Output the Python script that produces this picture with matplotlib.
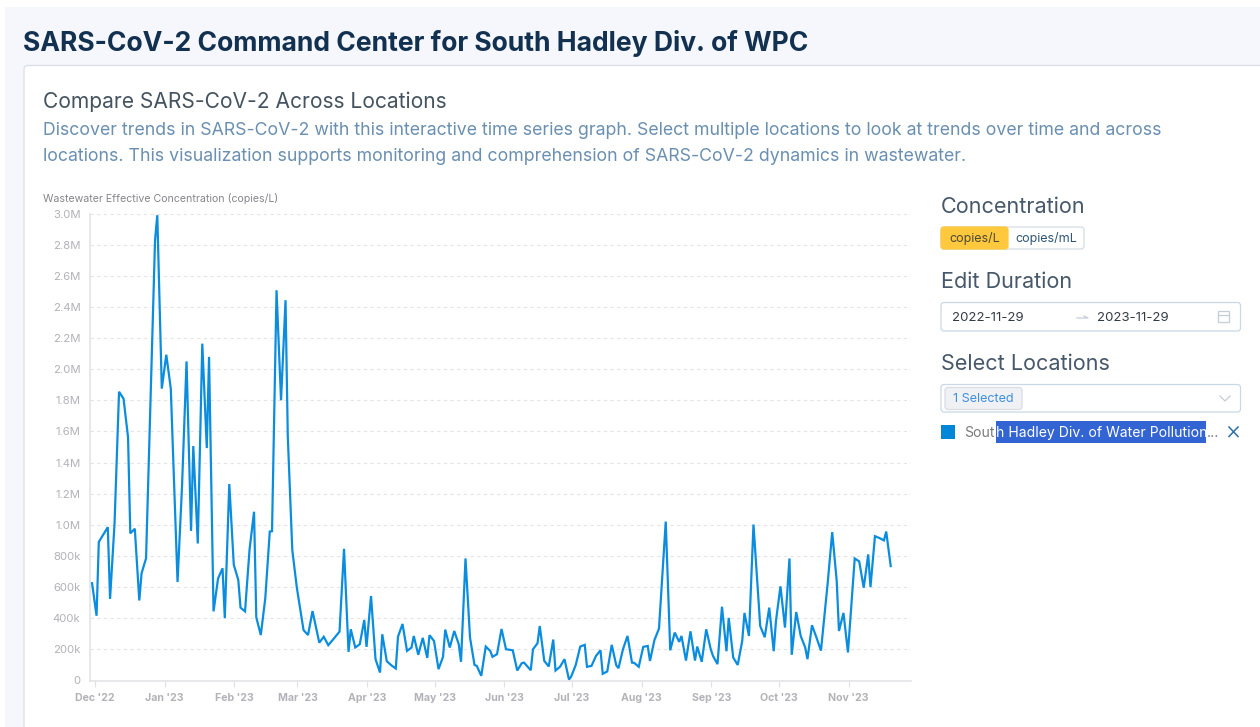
import matplotlib
matplotlib.use("Agg")
import matplotlib.pyplot as plt
from matplotlib.patches import Rectangle, FancyBboxPatch
from matplotlib.lines import Line2D

W, H = 1260, 727

# days since 2022-12-01 for each sample
days = [
    -1, 1, 2, 6, 7, 9, 11, 13, 15, 16, 18, 20, 21, 23, 25, 26, 27, 28, 30, 32,
    34, 37, 39, 41, 43, 44, 46, 48, 50, 51, 53, 55, 57, 58, 60, 62, 64, 65, 67, 69,
    71, 72, 74, 76, 78, 79, 81, 83, 85, 86, 88, 90, 93, 95, 97, 100, 102, 104,
    106, 109, 111, 113, 114, 116, 118, 120, 121, 123, 125, 127, 128, 130, 132, 134, 135, 137,
    139, 141, 142, 144, 146, 148, 149, 151, 153, 155, 156, 158, 160, 162, 163, 165, 167, 169,
    170, 172, 174, 176, 177, 179, 181, 183, 186, 188, 190, 191, 194, 195, 197, 198, 200, 202,
    204, 205, 207, 209, 211, 212, 214, 216, 218, 219, 221, 223, 225, 226, 228, 230, 232, 233,
    235, 237, 239, 240, 242, 244, 246, 247, 249, 251, 254, 256, 258, 260, 261, 263, 265, 267,
    268, 270, 272, 274, 275, 277, 279, 281, 282, 284, 286, 288, 289, 291, 293, 296, 298, 300,
    302, 303, 305, 307, 309, 310, 312, 314, 316, 317, 319, 321, 323, 326, 328, 330, 331, 333,
    335, 338, 340, 342, 344, 345, 347, 349, 351, 352, 354,
]
# copies/L, in thousands
values = [
    625, 416, 890, 985, 524, 1010, 1855, 1810, 1562, 945, 975, 514, 688, 785, 1800, 2300, 2830, 2989, 1875, 2093,
    1875, 633, 1250, 2050, 961, 1506, 880, 2164, 1493, 2079, 444, 655, 721, 401, 1262, 743, 646, 468, 444, 840,
    1084, 406, 292, 528, 957, 959, 2507, 1800, 2443, 1570, 839, 599, 324, 292, 446, 243, 281, 227,
    261, 314, 846, 184, 329, 212, 233, 389, 216, 543, 137, 51, 297, 124, 98, 77, 282, 363,
    190, 212, 286, 165, 274, 145, 291, 254, 73, 152, 327, 212, 318, 233, 120, 784, 276, 100,
    94, 30, 218, 190, 152, 169, 331, 201, 194, 64, 111, 115, 66, 201, 239, 350, 126, 90,
    263, 64, 88, 137, 6, 26, 100, 218, 229, 88, 94, 158, 194, 43, 58, 229, 98, 79,
    201, 286, 115, 113, 88, 216, 222, 126, 261, 333, 1021, 194, 308, 248, 286, 128, 316, 128,
    218, 120, 329, 201, 158, 105, 474, 188, 402, 147, 100, 254, 434, 286, 1002, 350, 278, 468,
    188, 383, 605, 340, 784, 165, 440, 286, 212, 137, 355, 276, 192, 628, 953, 639, 318, 434,
    180, 784, 765, 596, 810, 600, 927, 915, 900, 957, 735,
]

month_days = [0, 31, 62, 90, 121, 151, 182, 212, 243, 274, 304, 335]
month_labels = ["Dec '22", "Jan '23", "Feb '23", "Mar '23", "Apr '23", "May '23",
                "Jun '23", "Jul '23", "Aug '23", "Sep '23", "Oct '23", "Nov '23"]
y_ticks = [0, 200, 400, 600, 800, 1000, 1200, 1400, 1600, 1800, 2000, 2200, 2400, 2600, 2800, 3000]
y_labels = ["0", "200k", "400k", "600k", "800k", "1.0M", "1.2M", "1.4M", "1.6M", "1.8M",
            "2.0M", "2.2M", "2.4M", "2.6M", "2.8M", "3.0M"]

plt.rcParams["font.family"] = ["Inter", "Noto Sans", "DejaVu Sans"]

fig = plt.figure(figsize=(W / 100, H / 100), dpi=100, facecolor="white")

# page layer in pixel coordinates, y going down
bg = fig.add_axes([0, 0, 1, 1])
bg.set_xlim(0, W)
bg.set_ylim(H, 0)
bg.axis("off")


def text(x, y, s, px, color, weight="normal", ha="left"):
    # px is the font size in screen pixels
    bg.text(x, y + px * 0.1, s, fontsize=px * 0.72, color=color, fontweight=weight, ha=ha, va="center", zorder=5)


def box(x0, y0, x1, y1, face, edge="none", r=3, z=2):
    bg.add_patch(FancyBboxPatch((x0, y0), x1 - x0, y1 - y0, boxstyle=f"round,pad=0,rounding_size={r}",
                                fc=face, ec=edge, lw=0.9, zorder=z))


bg.add_patch(Rectangle((5, 7), W, H, fc="#f5f7fc", ec="none", zorder=0))
box(24, 65.5, W + 20, H + 20, "white", "#d9dfe8", r=4, z=1)

text(23, 41, "SARS-CoV-2 Command Center for South Hadley Div. of WPC", 26.5, "#12304f", "bold")
text(43, 100, "Compare SARS-CoV-2 Across Locations", 21, "#44535f")
text(43, 129, "Discover trends in SARS-CoV-2 with this interactive time series graph. Select multiple locations to look at trends over time and across",
     17.7, "#6a8fb0")
text(43, 155, "locations. This visualization supports monitoring and comprehension of SARS-CoV-2 dynamics in wastewater.",
     17.7, "#6a8fb0")
text(43, 197, "Wastewater Effective Concentration (copies/L)", 10.6, "#85858c")

# right hand controls
text(941, 205, "Concentration", 21.6, "#46586a")
box(941, 227, 1084, 249, "white", "#d5dce4")
box(941, 227, 1008, 249, "#ffc83d", "#ffc83d")
text(974.5, 237.5, "copies/L", 12.5, "#4a4a3a", ha="center")
text(1046, 237.5, "copies/mL", 12.5, "#2f5573", ha="center")

text(941, 280, "Edit Duration", 21.6, "#46586a")
box(941, 302.5, 1240.5, 331, "white", "#c9d8e6")
text(952, 316.5, "2022-11-29", 13.2, "#333b44")
text(1097, 316.5, "2023-11-29", 13.2, "#333b44")
bg.add_line(Line2D([1077, 1088, 1084], [318, 318, 316], color="#c4ced8", lw=0.9, zorder=4))
bg.add_patch(Rectangle((1218, 311), 11, 11, fc="none", ec="#c4ced8", lw=0.9, zorder=4))
bg.add_line(Line2D([1218, 1229], [314.5, 314.5], color="#c4ced8", lw=0.9, zorder=4))

text(941, 362, "Select Locations", 21.6, "#46586a")
box(941, 384.5, 1240.5, 412, "white", "#c9d8e6")
box(945, 387.5, 1022, 409.5, "#eff1f4", "#d9dde3", z=3)
text(953, 398, "1 Selected", 12.5, "#3f8fdc")
bg.add_line(Line2D([1220, 1225, 1230], [396, 401, 396], color="#c4ced8", lw=0.9, zorder=4))

bg.add_patch(Rectangle((941, 425), 14, 13.5, fc="#0085d9", ec="none"))
bg.add_patch(Rectangle((995.5, 421), 210, 22, fc="#3364d4", ec="none"))
text(964, 431.5, "Sout", 14, "#7c7c80")
text(996, 431.5, "h Hadley Div. of Water Pollution", 14, "white")
text(1207, 431.5, "...", 14, "#7c7c80")
bg.add_line(Line2D([1229, 1238], [427, 436.5], color="#2a6fa8", lw=1.1, zorder=4))
bg.add_line(Line2D([1229, 1238], [436.5, 427], color="#2a6fa8", lw=1.1, zorder=4))

# chart, the plot area sits on the pixels of the reference
left, right, top, bottom = 90.3, 911, 213.5, 680.5
ax = fig.add_axes([left / W, 1 - bottom / H, (right - left) / W, (bottom - top) / H])
ax.patch.set_alpha(0)
ax.set_xlim(-1.78, 363.02)
ax.set_ylim(0, 3000)

ax.plot(days, values, color="#0b8ddf", lw=1.6, solid_joinstyle="miter", clip_on=False, zorder=3)

# month ticks fall a little after the samples of that day
ax.set_xticks([d + 0.3 for d in month_days])
ax.set_xticklabels(month_labels)
ax.set_yticks(y_ticks)
ax.set_yticklabels(y_labels)
ax.grid(True, axis="y", color="#e4e4e8", linestyle=(0, (3, 3)), linewidth=0.8)
ax.tick_params(axis="x", length=4, width=0.9, color="#e2e2e6", labelcolor="#b2b2b8", labelsize=7.6, pad=5)
ax.tick_params(axis="y", length=0, labelcolor="#b2b2b8", labelsize=8.2, pad=7)
for lab in ax.get_xticklabels():
    lab.set_fontweight("bold")
for side in ["top", "right"]:
    ax.spines[side].set_visible(False)
for side in ["left", "bottom"]:
    ax.spines[side].set_color("#e2e2e6")
    ax.spines[side].set_linewidth(1.1)

fig.savefig("out.png", dpi=100)
